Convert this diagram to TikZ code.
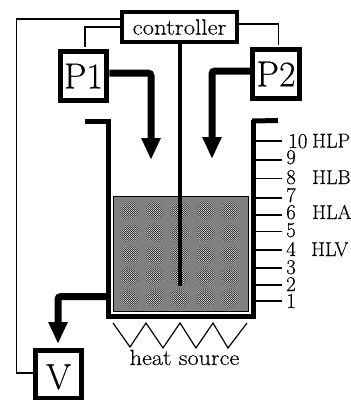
\documentclass[tikz,border=0pt]{standalone}
\usepackage{fontspec}
\setmainfont{Latin Modern Roman}[FakeBold=0.25]
\usetikzlibrary{arrows.meta,patterns}
\pgfdeclarepatternformonly{checkA}{\pgfpointorigin}{\pgfqpoint{2pt}{2pt}}{\pgfqpoint{2pt}{2pt}}{%
  \pgfpathrectangle{\pgfpointorigin}{\pgfqpoint{1pt}{1pt}}%
  \pgfpathrectangle{\pgfqpoint{1pt}{1pt}}{\pgfqpoint{1pt}{1pt}}%
  \pgfusepath{fill}}
\pgfdeclarepatternformonly{checkB}{\pgfpointorigin}{\pgfqpoint{2pt}{2pt}}{\pgfqpoint{2pt}{2pt}}{%
  \pgfpathrectangle{\pgfqpoint{1pt}{0pt}}{\pgfqpoint{1pt}{1pt}}%
  \pgfpathrectangle{\pgfqpoint{0pt}{1pt}}{\pgfqpoint{1pt}{1pt}}%
  \pgfusepath{fill}}
\tikzset{
  box/.style={draw=black,line width=5pt,fill=white,minimum width=#1,inner sep=0pt},
  thin wire/.style={line width=1.4pt},
  pipe/.style={line width=7pt,rounded corners=3pt,-{Triangle[length=22pt,width=18pt]}},
  wall/.style={line width=5pt,miter limit=10},
  tick mark/.style={line width=1.4pt},
  big/.style={font=\fontsize{36}{36}\selectfont,inner sep=0pt},
  mid/.style={font=\fontsize{21}{21}\selectfont,inner sep=0pt,anchor=base west},
  hl/.style={font=\fontsize{20}{20}\selectfont,inner sep=0pt,anchor=base west},
  wide/.style={font=\fontsize{22}{22}\selectfont,inner sep=0pt,anchor=base},
}
\begin{document}
\begin{tikzpicture}[x=1pt,y=-1pt]
\useasboundingbox (0,0) rectangle (351,400);
\fill[white] (0,0) rectangle (351,400);
% liquid
\node[draw=black,line width=.8pt,fill=black!50,minimum width=135pt,minimum height=115pt,inner sep=0pt] (liquid) at (181,254.2) {};
\foreach \r in {10,8,6,4}{
 \foreach \cx in {130,155,180,205,230}
  \foreach \cy in {211,233,255,276,298}{
   \fill[pattern=checkA,pattern color=white,opacity=.3] (\cx,\cy) circle[radius=\r];
   \fill[pattern=checkB,pattern color=black,opacity=.3] (\cx,\cy) circle[radius=\r];
  }}
% tank
\coordinate (tl) at (85,121.5);
\coordinate (tr) at (278,120.5);
\draw[wall] (tl) -- (108,121.5) -- (108,316) -- (253.5,316) -- (253.5,120);
\draw[wall] (252,121) -- (tr);
% boxes
\node[box=115pt,minimum height=30pt,line width=4pt,font=\fontsize{22}{22}\selectfont] (controller) at (179.5,27) {\scalebox{1.13}[1]{controller}};
\node[box=46.5pt,minimum height=49.5pt] (P1) at (83.5,76) {};
\node[big] at (P1) {P1};
\node[box=47pt,minimum height=49pt] (P2) at (276,74) {};
\node[big] at (P2) {P2};
\node[box=46pt,minimum height=47.5pt] (V) at (58.5,374.5) {};
\node[big] at (58.5,377) {V};
% rod
\coordinate (rodend) at (180,286);
\draw[line width=4pt] (controller.south -| rodend) -- (rodend);
% control wires
\draw[thin wire,line width=1.7pt] (controller.west |- 0,19) -- (16.5,19) -- (16.5,373) -- (V.west |- 0,373);
\draw[thin wire] (controller.west |- 0,27) -- (85,27) -- (85,47);
\draw[thin wire] (controller.east |- 0,24) -- (278.5,24) -- (278.5,45);
% pipes
\coordinate (a1) at (151,160);
\coordinate (a2) at (212,159);
\coordinate (a3) at (58,344);
\draw[pipe] (P1.east |- 0,73) -- (151,73) -- (a1);
\draw[pipe] (P2.west |- 0,71) -- (212,71) -- (a2);
\draw[pipe] (106,296.5) -- (58,296.5) -- (a3);
% ticks and labels
\foreach \ty in {141,160,178.7,198,215,231.7,250,268,285,301}
  \draw[tick mark] (256,\ty) -- (282,\ty);
\node[mid] at (288,148) {10};
\foreach \n/\ly in {9/164,8/184,7/202,6/219,5/237,4/256,3/274,2/291,1/308}
  \node[mid] at (286,\ly) {\n};
\node[hl] at (312,147.5) {HLP};
\node[hl] at (312,184) {HLB};
\node[hl] at (312,219) {HLA};
\node[hl] at (311,256) {HLV};
% heat
\draw[line width=1.2pt] (113,323) -- (130,347) -- (146,323) -- (163,348) -- (180,323) -- (196,348) -- (213,323) -- (228,348) -- (247,323);
\node[wide] at (184.5,365) {\scalebox{1.1}[1]{heat source}};
\end{tikzpicture}
\end{document}
